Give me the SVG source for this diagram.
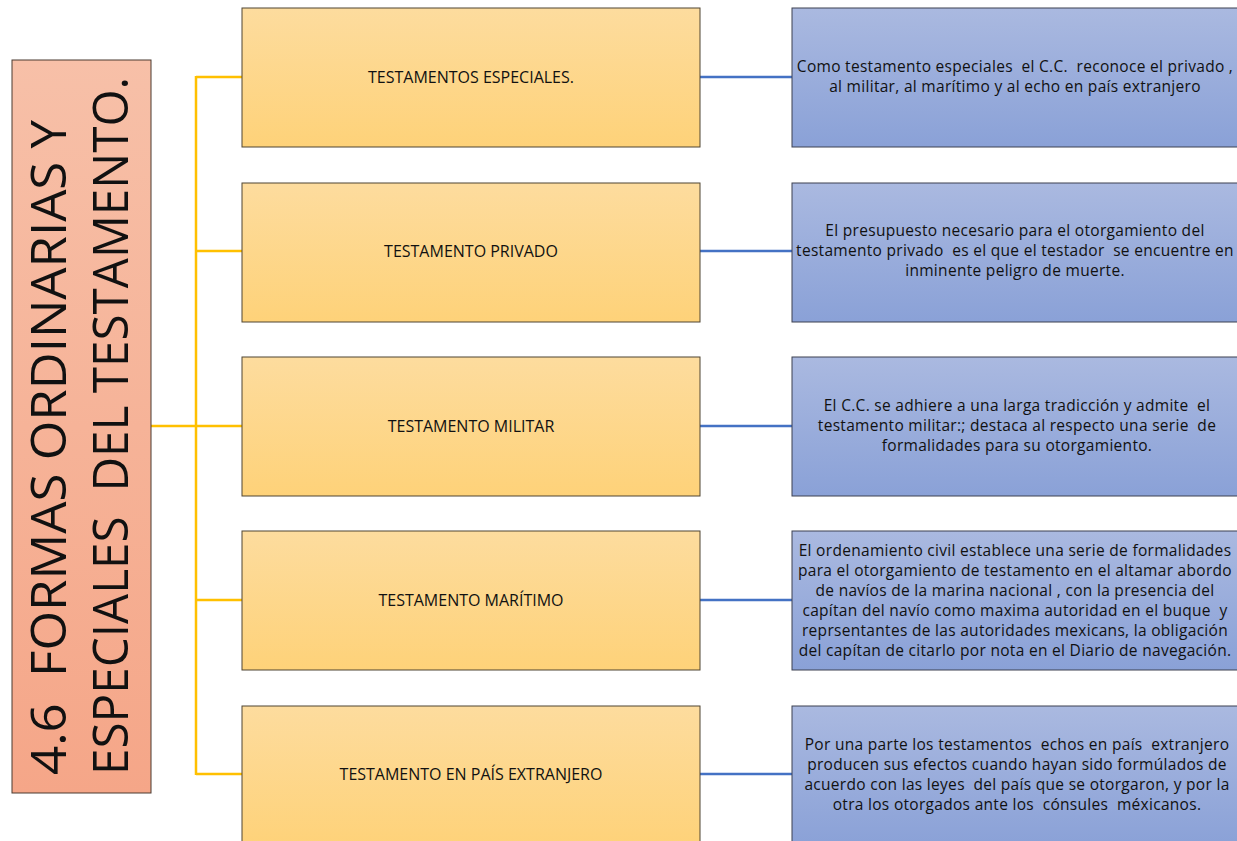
<svg xmlns="http://www.w3.org/2000/svg" width="1237" height="841" viewBox="0 0 1237 841">
<defs>
<linearGradient id="gTitle" x1="0" y1="0" x2="0" y2="1"><stop offset="0" stop-color="#f7c0a8"/><stop offset="1" stop-color="#f5a688"/></linearGradient>
<linearGradient id="gY" x1="0" y1="0" x2="0" y2="1"><stop offset="0" stop-color="#fddc9e"/><stop offset="1" stop-color="#fed279"/></linearGradient>
<linearGradient id="gB" x1="0" y1="0" x2="0" y2="1"><stop offset="0" stop-color="#aab9e0"/><stop offset="1" stop-color="#8aa1d7"/></linearGradient>
<style>
.t{font-family:"Open Sans","Liberation Sans",sans-serif;fill:#111;white-space:pre}
.title{font-size:50px}
.y{font-size:16px;text-anchor:middle}
.b{font-size:15.5px;letter-spacing:0.3px;text-anchor:middle}
.ybox{fill:url(#gY);stroke:#4f4533;stroke-width:1}
.bbox{fill:url(#gB);stroke:#3c4150;stroke-width:1}
.cy{stroke:#ffc000;stroke-width:2.5;fill:none}
.cb{stroke:#4472c4;stroke-width:2.5;fill:none}
</style>
</defs>
<rect width="1237" height="841" fill="#fff"/>
<g id="connectors">
<line class="cy" x1="151" y1="426" x2="196" y2="426" stroke-width="3"/>
<line class="cy" x1="196" y1="76" x2="196" y2="775"/>
<line class="cy" x1="196" y1="77" x2="242" y2="77"/>
<line class="cy" x1="196" y1="251" x2="242" y2="251"/>
<line class="cy" x1="196" y1="426" x2="242" y2="426"/>
<line class="cy" x1="196" y1="600" x2="242" y2="600"/>
<line class="cy" x1="196" y1="774" x2="242" y2="774"/>
<line class="cb" x1="700" y1="77" x2="792" y2="77"/>
<line class="cb" x1="700" y1="251" x2="792" y2="251"/>
<line class="cb" x1="700" y1="426" x2="792" y2="426"/>
<line class="cb" x1="700" y1="600" x2="792" y2="600"/>
<line class="cb" x1="700" y1="774" x2="792" y2="774"/>
</g>
<g id="title">
<rect x="12" y="60" width="139" height="733" fill="url(#gTitle)" stroke="#4a3a30" stroke-width="1"/>
<text class="t title" transform="translate(66,775) rotate(-90)" textLength="655" lengthAdjust="spacingAndGlyphs">4.6  FORMAS ORDINARIAS Y</text>
<text class="t title" transform="translate(128,775) rotate(-90)" textLength="698" lengthAdjust="spacingAndGlyphs">ESPECIALES  DEL TESTAMENTO.</text>
</g>
<g id="n1"><rect class="ybox" x="242" y="8" width="458" height="139"/><text class="t y" x="471" y="83">TESTAMENTOS ESPECIALES.</text></g>
<g id="n2"><rect class="ybox" x="242" y="183" width="458" height="139"/><text class="t y" x="471" y="257">TESTAMENTO PRIVADO</text></g>
<g id="n3"><rect class="ybox" x="242" y="357" width="458" height="139"/><text class="t y" x="471" y="432">TESTAMENTO MILITAR</text></g>
<g id="n4"><rect class="ybox" x="242" y="531" width="458" height="139"/><text class="t y" x="471" y="606">TESTAMENTO MARÍTIMO</text></g>
<g id="n5"><rect class="ybox" x="242" y="706" width="458" height="140"/><text class="t y" x="471" y="780">TESTAMENTO EN PAÍS EXTRANJERO</text></g>
<g id="d1"><rect class="bbox" x="792" y="8" width="450" height="139"/>
<text class="t b" x="1015" y="72">Como testamento especiales  el C.C.  reconoce el privado ,</text>
<text class="t b" x="1015" y="92">al militar, al marítimo y al echo en país extranjero</text></g>
<g id="d2"><rect class="bbox" x="792" y="183" width="450" height="139"/>
<text class="t b" x="1015" y="236">El presupuesto necesario para el otorgamiento del</text>
<text class="t b" x="1015" y="256">testamento privado  es el que el testador  se encuentre en</text>
<text class="t b" x="1015" y="276">inminente peligro de muerte.</text></g>
<g id="d3"><rect class="bbox" x="792" y="357" width="450" height="139"/>
<text class="t b" x="1017" y="411">El C.C. se adhiere a una larga tradicción y admite  el</text>
<text class="t b" x="1017" y="431">testamento militar:; destaca al respecto una serie  de</text>
<text class="t b" x="1017" y="451">formalidades para su otorgamiento.</text></g>
<g id="d4"><rect class="bbox" x="792" y="531" width="450" height="139"/>
<text class="t b" x="1015" y="556">El ordenamiento civil establece una serie de formalidades</text>
<text class="t b" x="1015" y="576">para el otorgamiento de testamento en el altamar abordo</text>
<text class="t b" x="1015" y="596">de navíos de la marina nacional , con la presencia del</text>
<text class="t b" x="1015" y="616">capítan del navío como maxima autoridad en el buque  y</text>
<text class="t b" x="1015" y="636">reprsentantes de las autoridades mexicans, la obligación</text>
<text class="t b" x="1015" y="656">del capítan de citarlo por nota en el Diario de navegación.</text></g>
<g id="d5"><rect class="bbox" x="792" y="706" width="450" height="140"/>
<text class="t b" x="1017" y="750">Por una parte los testamentos  echos en país  extranjero</text>
<text class="t b" x="1017" y="770">producen sus efectos cuando hayan sido formúlados de</text>
<text class="t b" x="1017" y="790">acuerdo con las leyes  del país que se otorgaron, y por la</text>
<text class="t b" x="1017" y="810">otra los otorgados ante los  cónsules  méxicanos.</text></g>
</svg>
